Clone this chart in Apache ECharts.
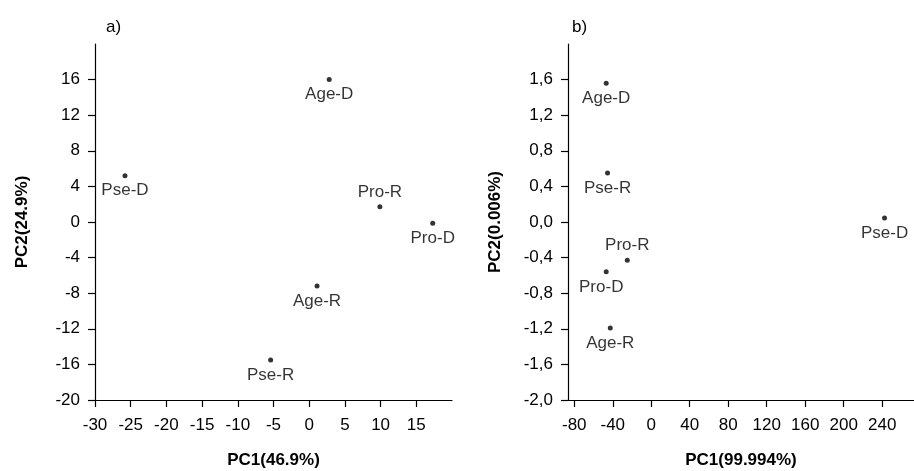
<!DOCTYPE html>
<html>
<head>
<meta charset="utf-8">
<script src="https://cdn.jsdelivr.net/npm/echarts@6/dist/echarts.min.js"></script>
<style>
  html, body { margin: 0; padding: 0; background: #fff; }
  #main { width: 914px; height: 471px; }
</style>
</head>
<body>
<div id="main"></div>
<script>
// panel a)
const namesA = ['Age-D', 'Pse-D', 'Pro-R', 'Pro-D', 'Age-R', 'Pse-R'];
const pc1A = [2.8, -25.8, 9.9, 17.3, 1.1, -5.4];
const pc2A = [16.0, 5.2, 1.7, -0.15, -7.2, -15.5];
const xTicksA = [-30, -25, -20, -15, -10, -5, 0, 5, 10, 15];
const yTicksA = [-20, -16, -12, -8, -4, 0, 4, 8, 12, 16];

// panel b)
const namesB = ['Age-D', 'Pse-R', 'Pse-D', 'Pro-R', 'Pro-D', 'Age-R'];
const pc1B = [-46.8, -45.4, 242.4, -24.9, -46.8, -42.6];
const pc2B = [1.56, 0.55, 0.045, -0.43, -0.56, -1.19];
const xTicksB = [-80, -40, 0, 40, 80, 120, 160, 200, 240];
const yTicksB = [-2.0, -1.6, -1.2, -0.8, -0.4, 0.0, 0.4, 0.8, 1.2, 1.6];

// label placement per point (style only)
const labelUp = { 'Pro-R': true };
const labelShift = { b: { 'Pro-D': [-5, 0] } };

const FONT = '"Liberation Sans", Arial, Helvetica, sans-serif';
const INK = '#000';

function points(names, xs, ys, panel) {
  return names.map(function (n, i) {
    return {
      name: n,
      value: [xs[i], ys[i]],
      label: {
        position: labelUp[n] ? 'top' : 'bottom',
        offset: (labelShift[panel] && labelShift[panel][n]) || [0, 0]
      }
    };
  });
}

function xAxis(idx, min, max, ticks, name, fmt) {
  return {
    type: 'value', gridIndex: idx, min: min, max: max,
    name: name, nameLocation: 'middle', nameGap: 52,
    nameTextStyle: { fontFamily: FONT, fontSize: 17, fontWeight: 'bold', color: INK },
    axisLine: { show: true, onZero: false, lineStyle: { color: INK, width: 1.2 } },
    axisTick: { show: true, length: 7, customValues: ticks, lineStyle: { color: INK, width: 1.2 } },
    axisLabel: { customValues: ticks, margin: 17, fontFamily: FONT, fontSize: 17, color: INK, formatter: fmt },
    splitLine: { show: false }
  };
}

function yAxis(idx, min, max, ticks, name, fmt) {
  return {
    type: 'value', gridIndex: idx, min: min, max: max,
    name: name, nameLocation: 'middle', nameGap: 64,
    nameTextStyle: { fontFamily: FONT, fontSize: 17, fontWeight: 'bold', color: INK },
    axisLine: { show: true, onZero: false, lineStyle: { color: INK, width: 1.2 } },
    axisTick: { show: true, length: 7, customValues: ticks, lineStyle: { color: INK, width: 1.2 } },
    axisLabel: { customValues: ticks, margin: 15, fontFamily: FONT, fontSize: 17, color: INK, formatter: fmt },
    splitLine: { show: false }
  };
}

const commaFmt = function (v) { return v.toFixed(1).replace('.', ','); };
const intFmt = function (v) { return String(Math.round(v)); };

const chart = echarts.init(document.getElementById('main'), null, { renderer: 'canvas' });

const scatterStyle = {
  type: 'scatter',
  symbol: 'circle',
  symbolSize: 5,
  itemStyle: { color: INK },
  label: { show: true, formatter: '{b}', distance: 4, fontFamily: FONT, fontSize: 17, color: INK },
  emphasis: { disabled: true }
};

chart.setOption({
  backgroundColor: '#fff',
  animation: false,
  title: [
    { text: 'a)', left: 101, top: 14, textStyle: { fontFamily: FONT, fontSize: 17, fontWeight: 'normal', color: INK } },
    { text: 'b)', left: 567, top: 14, textStyle: { fontFamily: FONT, fontSize: 17, fontWeight: 'normal', color: INK } }
  ],
  grid: [
    { left: 95, top: 44, width: 357, height: 356, outerBoundsMode: 'none' },
    { left: 568, top: 44, width: 346, height: 356, outerBoundsMode: 'none' }
  ],
  xAxis: [
    xAxis(0, -30, 20, xTicksA, 'PC1(46.9%)', intFmt),
    xAxis(1, -86.5, 273, xTicksB, 'PC1(99.994%)', intFmt)
  ],
  yAxis: [
    yAxis(0, -20, 20, yTicksA, 'PC2(24.9%)', intFmt),
    yAxis(1, -2, 2, yTicksB, 'PC2(0.006%)', commaFmt)
  ],
  series: [
    Object.assign({}, scatterStyle, { xAxisIndex: 0, yAxisIndex: 0, data: points(namesA, pc1A, pc2A, 'a') }),
    Object.assign({}, scatterStyle, { xAxisIndex: 1, yAxisIndex: 1, data: points(namesB, pc1B, pc2B, 'b') })
  ]
});
</script>
</body>
</html>
